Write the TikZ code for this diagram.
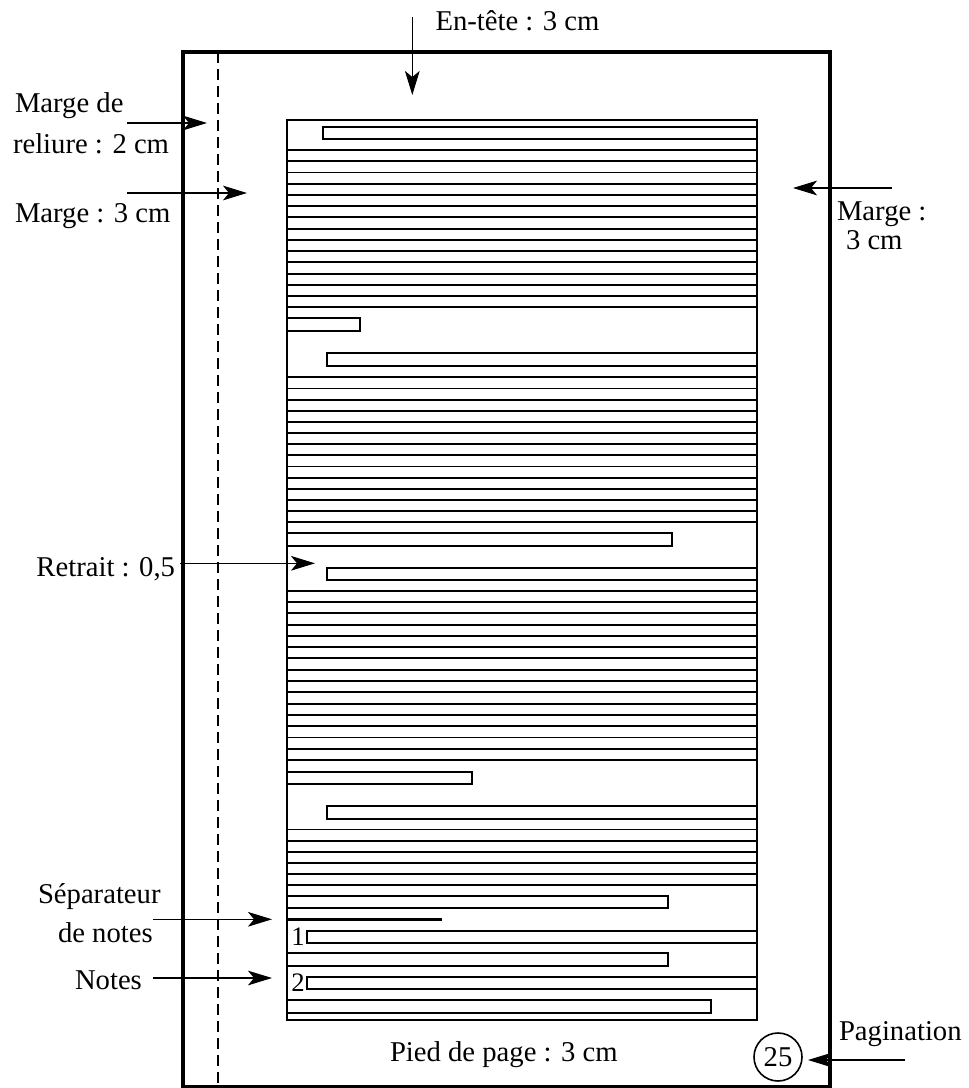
\documentclass[tikz,border=0pt]{standalone}
\usepackage{fontspec}
\setmainfont{Liberation Serif}
\usetikzlibrary{arrows.meta}
\begin{document}
\begin{tikzpicture}[x=0.75pt,y=-0.75pt,
  lbl/.style={font=\fontsize{21.5}{26}\selectfont, inner sep=0pt, outer sep=0pt},
  num/.style={font=\fontsize{20}{24}\selectfont, inner sep=0pt, outer sep=0pt},
  arr/.style={line width=1.2pt, -{Stealth[length=18pt,width=11pt,inset=4.5pt]}},
  tl/.style={line width=1.4pt},
  blk/.style={line width=1.1pt},
  frame/.style={line width=2.3pt},
]
\useasboundingbox (0,0) rectangle (969,1088);
% page frame and binding margin
\draw[frame] (183,52) rectangle (830,1086.5);
\draw[line width=1.5pt, dash pattern=on 8.25pt off 4.5pt] (218,52) -- (218,1086);

% text block
\draw[blk] (287,120) rectangle (757,1020);
% paragraph 1
\draw[tl] (323,127.3) rectangle (757,139.3);
\foreach \k in {0,...,14} \draw[tl] (287,{150+\k*11.236}) -- (757,{150+\k*11.236});
\draw[tl] (287,318.3) rectangle (360,330.7);
% paragraph 2
\draw[tl] (326.7,353.3) rectangle (757,366);
\foreach \k in {0,...,13} \draw[tl] (287,{377.3+\k*11.154}) -- (757,{377.3+\k*11.154});
\draw[tl] (287,533.3) rectangle (671.7,546);
% paragraph 3
\draw[tl] (326.7,568.3) rectangle (757,580);
\foreach \k in {0,...,15} \draw[tl] (287,{590.7+\k*11.287}) -- (757,{590.7+\k*11.287});
\draw[tl] (287,771.7) rectangle (471.7,784);
% paragraph 4
\draw[tl] (326.7,806) rectangle (757,818.7);
\foreach \k in {0,...,5} \draw[tl] (287,{829.5+\k*11.1}) -- (757,{829.5+\k*11.1});
\draw[tl] (287,896) rectangle (668.3,908.3);
% note separator
\draw[frame] (287,919.3) -- (441.7,919.3);
% notes
\draw[tl] (306.7,930.7) rectangle (757,942.7);
\node[num] (n1) at (298,937) {1};
\draw[tl] (287,953.3) rectangle (668.3,966);
\draw[tl] (306.7,977.3) rectangle (757,989.3);
\node[num] (n2) at (298,983) {2};
\draw[tl] (287,1000) rectangle (710.7,1012.7);

% page number
\node[circle, draw, line width=1.2pt, minimum size=36pt, inner sep=0pt, font=\fontsize{21.5}{26}\selectfont] (pg) at (778,1057) {25};

% labels
\node[lbl, anchor=base] (entete) at (517.5,30.7) {En-tête : 3 cm};
\node[lbl, anchor=base west] (mr1) at (15,113) {Marge de};
\node[lbl, anchor=base west] (mr2) at (13,153) {reliure : 2 cm};
\node[lbl, anchor=base west] (mg) at (15,222) {Marge : 3 cm};
\node[lbl, anchor=base west] (md1) at (837,220) {Marge :};
\node[lbl, anchor=base west] (md2) at (846,249) {3 cm};
\node[lbl, anchor=base east] (retr) at (175,576.7) {Retrait : 0,5};
\node[lbl, anchor=base west] (sep1) at (38,903) {Séparateur};
\node[lbl, anchor=base west] (sep2) at (58,942.7) {de notes};
\node[lbl, anchor=base west] (notes) at (75,989) {Notes};
\node[lbl, anchor=base west] (pied) at (390,1061.7) {Pied de page : 3 cm};
\node[lbl, anchor=base west] (pagin) at (839,1040) {Pagination};

% arrows
\coordinate (a1s) at (412.3,17);   \coordinate (a1e) at (412.3,95);
\coordinate (a2s) at (127,123);    \coordinate (a2e) at (207,123);
\coordinate (a3s) at (127,193);    \coordinate (a3e) at (247,193);
\coordinate (a4s) at (892,188);    \coordinate (a4e) at (793,188);
\coordinate (a5s) at (180,563.3);  \coordinate (a5e) at (315,563.3);
\coordinate (a6s) at (153,919.3);  \coordinate (a6e) at (272,919.3);
\coordinate (a7s) at (153,978);    \coordinate (a7e) at (272,978);
\coordinate (a8s) at (905,1060);   \coordinate (a8e) at (808,1060);
\draw[arr] (a1s) -- (a1e);
\draw[arr] (a2s) -- (a2e);
\draw[arr] (a3s) -- (a3e);
\draw[arr] (a4s) -- (a4e);
\draw[arr] (a5s) -- (a5e);
\draw[arr] (a6s) -- (a6e);
\draw[arr] (a7s) -- (a7e);
\draw[arr] (a8s) -- (a8e);
\end{tikzpicture}
\end{document}
